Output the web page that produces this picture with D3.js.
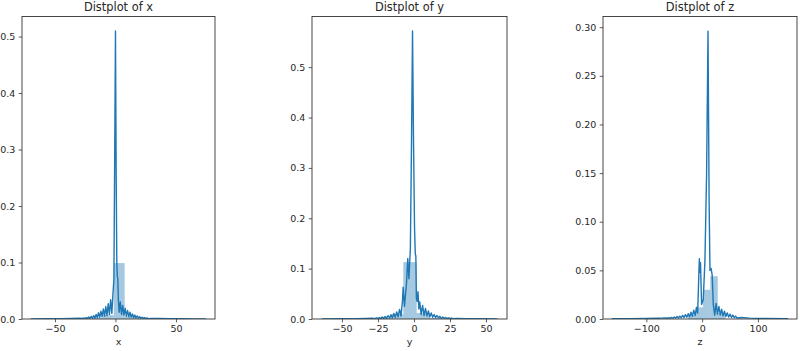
<!DOCTYPE html>
<html>
<head>
<meta charset="utf-8">
<script src="https://cdn.jsdelivr.net/npm/d3@7"></script>
<style>
  body { margin: 0; background: #fff; }
  text { font-family: "DejaVu Sans", sans-serif; fill: #262626; }
</style>
</head>
<body>
<div id="chart"></div>
<script>
// titles and axis labels
const titles = ['Distplot of x', 'Distplot of y', 'Distplot of z'];
const axisNames = ['x', 'y', 'z'];

// tick values
const xTicksX = [-50, 0, 50];
const xTicksY = [-50, -25, 0, 25, 50];
const xTicksZ = [-100, 0, 100];
const yTicksX = [0, 0.1, 0.2, 0.3, 0.4, 0.5];
const yTicksY = [0, 0.1, 0.2, 0.3, 0.4, 0.5];
const yTicksZ = [0, 0.05, 0.10, 0.15, 0.20, 0.25, 0.30];

// axis limits (data range + matplotlib margins)
const xLimX = [-77.25, 82.25], yLimX = [0, 0.5355];
const xLimY = [-70.8, 64.6], yLimY = [0, 0.6006];
const xLimZ = [-177.7, 170], yLimZ = [0, 0.311];

// histogram bins (only the ones tall enough to see)
const xBinEdges = [-19.4, -10.4, -1.4, 7.6, 16.6, 25.6];
const xBinHeights = [0.002, 0.007, 0.099, 0.006, 0.001];
const yBinEdges = [-26, -16.7, -7.4, 1.9, 11.2, 20.5];
const yBinHeights = [0.002, 0.01, 0.113, 0.012, 0.002];
const zBinEdges = [-25.5, -12, 1.5, 14.5, 28, 41.5];
const zBinHeights = [0.004, 0.012, 0.03, 0.044, 0.006];

// kde curves
const xKdeX = [-70, -55, -45, -36, -30,
  -27, -26, -25, -24, -23, -22, -21, -20, -19, -18, -17, -16, -15, -14, -13, -12, -11, -10, -9, -8, -7, -6, -5, -4, -3, -2.2,
  -1.3, -0.6, 0, 0.6, 1.1, 1.5, 1.9, 2.4, 3,
  4, 5, 6, 7, 8, 9, 10, 11, 12, 13, 14, 15, 16, 17, 18, 19, 20, 21, 22, 23, 24, 25, 26, 27,
  30, 36, 45, 55, 66, 75];
const xKdeDensity = [0.0003, 0.0004, 0.0006, 0.0009, 0.0012,
  0.0008, 0.002, 0.0007, 0.0025, 0.0008, 0.0035, 0.001, 0.0045, 0.0013, 0.006, 0.0017, 0.008, 0.0022, 0.011, 0.003, 0.014, 0.004, 0.018, 0.005, 0.022, 0.006, 0.027, 0.008, 0.034, 0.01, 0.04,
  0.07, 0.3, 0.51, 0.25, 0.1, 0.075, 0.072, 0.035, 0.012,
  0.03, 0.008, 0.024, 0.007, 0.019, 0.005, 0.015, 0.004, 0.012, 0.0035, 0.009, 0.0025, 0.007, 0.002, 0.0055, 0.0015, 0.0042, 0.0012, 0.0033, 0.001, 0.0025, 0.0008, 0.0019, 0.0007,
  0.001, 0.0008, 0.0005, 0.0004, 0.0003, 0.0002];

const yKdeX = [-64, -50, -40, -33, -29,
  -27, -26, -25, -24, -23, -22, -21, -20, -19, -18, -17, -16, -15, -14, -13, -12, -11, -10, -9,
  -8, -7.5, -6.6, -5.2, -4.3, -3.5, -2.5, -1.7, -1, -0.3, 0.4, 0.9, 1.3, 1.7, 2.2, 2.8, 3.4,
  4, 5, 6, 7, 8, 9, 10, 11, 12, 13, 14, 15, 16, 17, 18, 19, 20, 21, 22, 23, 24, 25, 26, 27,
  30, 36, 45, 58];
const yKdeDensity = [0.0003, 0.0005, 0.0008, 0.0012, 0.0015,
  0.0008, 0.0025, 0.0009, 0.003, 0.001, 0.004, 0.0013, 0.005, 0.0016, 0.0065, 0.002, 0.008, 0.0026, 0.011, 0.0035, 0.014, 0.0045, 0.019, 0.006,
  0.035, 0.063, 0.025, 0.07, 0.12, 0.08, 0.14, 0.35, 0.572, 0.35, 0.18, 0.13, 0.125, 0.04, 0.035, 0.054, 0.02,
  0.034, 0.009, 0.027, 0.007, 0.021, 0.006, 0.016, 0.0045, 0.012, 0.0035, 0.009, 0.0027, 0.007, 0.002, 0.0053, 0.0016, 0.004, 0.0013, 0.003, 0.001, 0.0024, 0.0008, 0.0019, 0.0007,
  0.0011, 0.0008, 0.0005, 0.0003];

const zKdeX = [-162, -130, -100, -80, -70, -65,
  -62.5, -60, -57.5, -55, -52.5, -50, -47.5, -45, -42.5, -40, -37.5, -35, -32.5, -30, -27.5, -25, -22.5, -20, -17.5, -15, -12.5, -10,
  -8, -6, -5, -4, -3, -1, 2, 5, 8, 10.5, 12.5, 14, 16, 18, 20, 22.5,
  25, 27.5, 30, 32.5, 35, 37.5, 40, 42.5, 45, 47.5, 50, 52.5, 55, 57.5, 60, 62.5,
  70, 85, 110, 154];
const zKdeDensity = [0.0002, 0.0003, 0.0005, 0.0008, 0.001, 0.0012,
  0.0006, 0.0014, 0.0007, 0.0017, 0.0008, 0.002, 0.0009, 0.0025, 0.001, 0.003, 0.0012, 0.0037, 0.0015, 0.0045, 0.0018, 0.0055, 0.0022, 0.007, 0.0028, 0.009, 0.0035, 0.012,
  0.006, 0.045, 0.062, 0.048, 0.058, 0.015, 0.02, 0.06, 0.15, 0.296, 0.12, 0.05, 0.052, 0.045, 0.015, 0.004,
  0.016, 0.005, 0.013, 0.004, 0.01, 0.0032, 0.008, 0.0026, 0.0063, 0.002, 0.005, 0.0016, 0.004, 0.0013, 0.003, 0.001,
  0.0015, 0.0009, 0.0005, 0.0002];

const W = 800, H = 351;
const plotTop = 16.5, plotBottom = 319;
const blue = '#1f77b4';

const panels = [
  { kx: xKdeX, ky: xKdeDensity, edges: xBinEdges, heights: xBinHeights, xt: xTicksX, yt: yTicksX, xl: xLimX, yl: yLimX, fmt: '.1f', left: 22, right: 215 },
  { kx: yKdeX, ky: yKdeDensity, edges: yBinEdges, heights: yBinHeights, xt: xTicksY, yt: yTicksY, xl: xLimY, yl: yLimY, fmt: '.1f', left: 312, right: 507 },
  { kx: zKdeX, ky: zKdeDensity, edges: zBinEdges, heights: zBinHeights, xt: xTicksZ, yt: yTicksZ, xl: xLimZ, yl: yLimZ, fmt: '.2f', left: 603, right: 797 }
];

const svg = d3.select('#chart').append('svg')
  .attr('width', W)
  .attr('height', H);

panels.forEach((p, i) => {
  const x = d3.scaleLinear().domain(p.xl).range([p.left, p.right]);
  const y = d3.scaleLinear().domain(p.yl).range([plotBottom, plotTop]);
  const g = svg.append('g');

  g.append('clipPath').attr('id', `clip${i}`)
    .append('rect')
    .attr('x', p.left).attr('y', plotTop)
    .attr('width', p.right - p.left).attr('height', plotBottom - plotTop);

  const plot = g.append('g').attr('clip-path', `url(#clip${i})`);

  // histogram bars
  plot.selectAll('rect.bar')
    .data(p.heights)
    .join('rect')
    .attr('class', 'bar')
    .attr('x', (d, j) => x(p.edges[j]))
    .attr('width', (d, j) => x(p.edges[j + 1]) - x(p.edges[j]))
    .attr('y', d => y(d))
    .attr('height', d => y(0) - y(d))
    .attr('fill', blue)
    .attr('fill-opacity', 0.4);

  // kde line
  const line = d3.line()
    .x(d => x(d[0]))
    .y(d => y(d[1]));
  plot.append('path')
    .datum(p.kx.map((v, j) => [v, p.ky[j]]))
    .attr('d', line)
    .attr('fill', 'none')
    .attr('stroke', blue)
    .attr('stroke-width', 1.4)
    .attr('stroke-linejoin', 'round');

  // axes
  const xAxis = g.append('g')
    .attr('transform', `translate(0,${plotBottom})`)
    .call(d3.axisBottom(x).tickValues(p.xt).tickSize(3.3).tickPadding(3.3).tickFormat(d3.format('d')));
  const yAxis = g.append('g')
    .attr('transform', `translate(${p.left},0)`)
    .call(d3.axisLeft(y).tickValues(p.yt).tickSize(3.3).tickPadding(3.3).tickFormat(d3.format(p.fmt)));

  [xAxis, yAxis].forEach(a => {
    a.select('.domain').remove();
    a.selectAll('line').attr('stroke', '#333').attr('stroke-width', 0.8);
    a.selectAll('text')
      .style('font-size', '9.5px')
      .style('font-family', '"DejaVu Sans", sans-serif')
      .attr('fill', '#262626');
  });

  // spines
  g.append('rect')
    .attr('x', p.left).attr('y', plotTop)
    .attr('width', p.right - p.left).attr('height', plotBottom - plotTop)
    .attr('fill', 'none')
    .attr('stroke', '#333')
    .attr('stroke-width', 0.9);

  // title and axis label
  g.append('text')
    .attr('x', (p.left + p.right) / 2)
    .attr('y', 11)
    .attr('text-anchor', 'middle')
    .style('font-size', '11.4px')
    .text(titles[i]);

  g.append('text')
    .attr('x', (p.left + p.right) / 2)
    .attr('y', 345)
    .attr('text-anchor', 'middle')
    .style('font-size', '9.5px')
    .text(axisNames[i]);
});
</script>
</body>
</html>
